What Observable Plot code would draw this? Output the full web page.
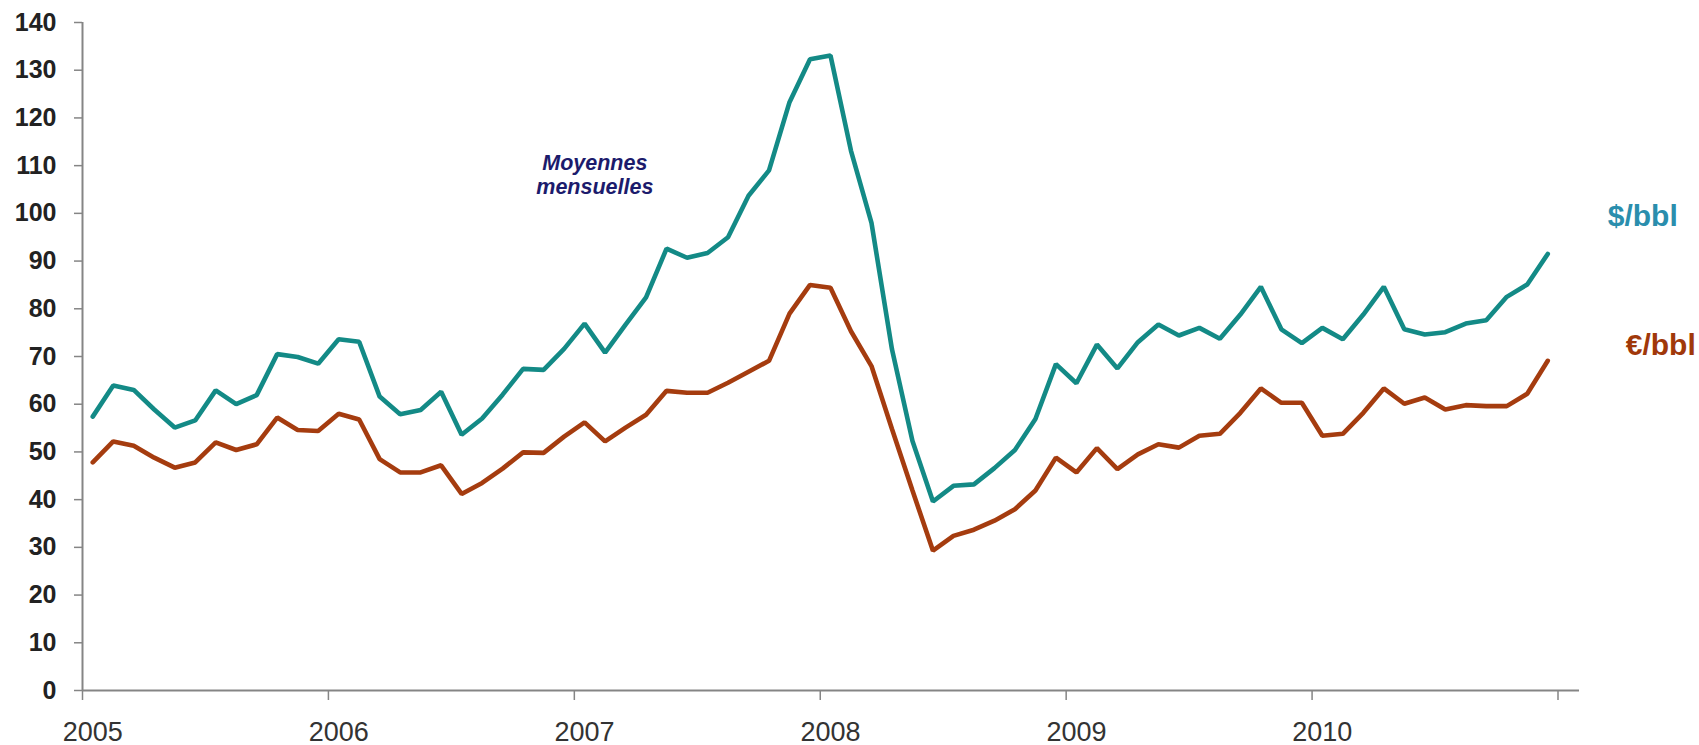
<!DOCTYPE html>
<html>
<head>
<meta charset="utf-8">
<script src="https://cdn.jsdelivr.net/npm/d3@7"></script>
<script src="https://cdn.jsdelivr.net/npm/@observablehq/plot@0.6"></script>
<style>
  html, body { margin: 0; padding: 0; background: #fff; }
</style>
</head>
<body>
<div id="chart"></div>
<script>
// Monthly averages, $/bbl
const usd = [
  57.4, 63.9, 63.0, 58.9, 55.1, 56.6, 62.9, 60.0, 61.9, 70.5, 69.9, 68.5,
  73.6, 73.1, 61.6, 57.9, 58.8, 62.6, 53.6, 57.0, 62.0, 67.4, 67.2, 71.6,
  76.9, 70.8, 76.7, 82.4, 92.6, 90.7, 91.7, 95.0, 103.7, 109.0, 123.3, 132.3,
  133.1, 113.1, 98.0, 71.5, 52.3, 39.6, 42.9, 43.2, 46.6, 50.4, 56.9, 68.4,
  64.4, 72.5, 67.5, 73.0, 76.7, 74.4, 76.0, 73.7, 78.8, 84.6, 75.7, 72.8,
  76.0, 73.6, 78.8, 84.6, 75.7, 74.6, 75.1, 76.9, 77.6, 82.5, 85.1, 91.5
];
// Monthly averages, €/bbl
const eur = [
  47.8, 52.2, 51.3, 48.8, 46.7, 47.8, 52.0, 50.4, 51.6, 57.2, 54.6, 54.4,
  58.0, 56.8, 48.5, 45.7, 45.7, 47.2, 41.2, 43.5, 46.5, 49.9, 49.8, 53.2,
  56.2, 52.2, 55.1, 57.8, 62.8, 62.4, 62.4, 64.5, 66.8, 69.1, 79.0, 85.0,
  84.4, 75.3, 68.0, 54.8, 41.9, 29.3, 32.4, 33.7, 35.6, 38.0, 41.9, 48.8,
  45.7, 50.8, 46.4, 49.5, 51.6, 50.9, 53.4, 53.8, 58.2, 63.3, 60.3, 60.3,
  53.4, 53.8, 58.2, 63.3, 60.1, 61.4, 58.9, 59.8, 59.6, 59.6, 62.2, 69.1
];
const years = ["2005", "2006", "2007", "2008", "2009", "2010"];
const yTicks = [0, 10, 20, 30, 40, 50, 60, 70, 80, 90, 100, 110, 120, 130, 140];
const seriesNames = ["$/bbl", "€/bbl"];
const note = "Moyennes\nmensuelles";

const n = usd.length;
const usdRows = usd.map((v, i) => ({m: i + 0.5, v, s: seriesNames[0]}));
const eurRows = eur.map((v, i) => ({m: i + 0.5, v, s: seriesNames[1]}));
const yearBounds = d3.range(0, n + 1, 12);
const yearCenters = years.map((y, k) => k * 12 + 0.5);

const font = "'Liberation Sans', Arial, Helvetica, sans-serif";
const axisGray = "#858585";

const chart = Plot.plot({
  width: 1699,
  height: 745,
  marginLeft: 82,
  marginRight: 141.5,
  marginTop: 22,
  marginBottom: 55,
  style: {fontFamily: font, background: "#fff", overflow: "visible"},
  x: {domain: [0, n], axis: null},
  y: {domain: [0, 140], axis: null},
  marks: [
    Plot.axisY(yTicks, {
      tickSize: 8, tickPadding: 18, fontSize: 25, fontWeight: "bold",
      fill: "#222", stroke: axisGray, strokeWidth: 1.5, label: null
    }),
    Plot.axisX(yearBounds, {
      tickSize: 10, tickFormat: () => "", stroke: axisGray, strokeWidth: 1.5, label: null
    }),
    Plot.axisX(yearCenters, {
      tickSize: 0, tickPadding: 31, fontSize: 27, fill: "#333",
      tickFormat: d => years[Math.round((d - 0.5) / 12)], label: null
    }),
    Plot.ruleX([0], {y1: 0, y2: 140, stroke: axisGray, strokeWidth: 2}),
    Plot.ruleY([0], {x1: 0, x2: n + 1.05, stroke: axisGray, strokeWidth: 2}),
    Plot.line(eurRows, {x: "m", y: "v", stroke: "#a53c0f", strokeWidth: 4.6, strokeLinejoin: "miter"}),
    Plot.line(usdRows, {x: "m", y: "v", stroke: "#138a86", strokeWidth: 4.6, strokeLinejoin: "miter"}),
    Plot.text(usdRows, Plot.selectLast({
      x: "m", y: "v", text: "s", dx: 60, dy: -38, textAnchor: "start",
      fill: "#2a8ead", fontSize: 30, fontWeight: "bold"
    })),
    Plot.text(eurRows, Plot.selectLast({
      x: "m", y: "v", text: "s", dx: 78, dy: -15, textAnchor: "start",
      fill: "#a0380a", fontSize: 30, fontWeight: "bold"
    })),
    Plot.text([note], {
      x: 25, y: 108.2, text: d => d, textAnchor: "middle", lineAnchor: "middle",
      lineHeight: 1.15, fill: "#1c1b6c", fontSize: 21.5, fontWeight: "bold", fontStyle: "italic"
    })
  ]
});
document.getElementById("chart").append(chart);
</script>
</body>
</html>
